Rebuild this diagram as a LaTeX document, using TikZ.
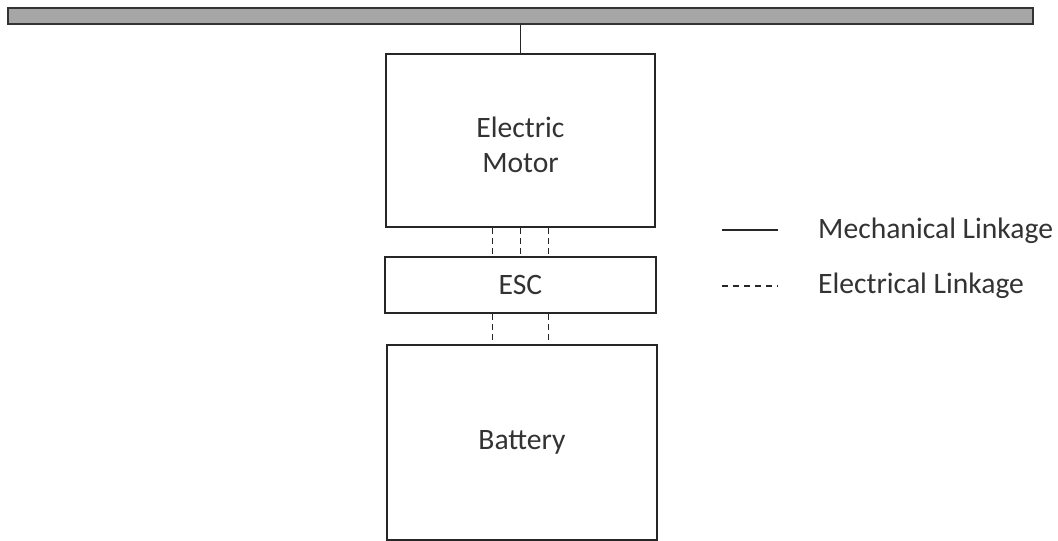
\documentclass[tikz,border=0pt]{standalone}
\usepackage{fontspec}
\setmainfont{Carlito}
\usepackage{tikz}
\usetikzlibrary{positioning}

\tikzset{
  unit/.style={draw=black!85, line width=1.4pt, fill=white, align=center,
    text=black!80, inner sep=0pt},
  mech/.style={draw=black!85, line width=1.4pt},
  elec/.style={draw=black!85, line width=1.2pt, dash pattern=on 6pt off 4pt},
  legtext/.style={anchor=west, text=black!80, inner sep=0pt}
}

\begin{document}
\begin{tikzpicture}[x=1pt, y=-1pt, every node/.style={font=\fontsize{29.6}{35}\selectfont}]

\path[use as bounding box] (0,0) rectangle (1058,541);

% Shaft bar
\node[draw=black!80, line width=2pt, fill=black!35, minimum width=1025pt,
      minimum height=16pt, inner sep=0pt] (bar) at (520.5,16) {};

% Units
\node[unit, minimum width=269pt, minimum height=173pt] (motor) at (520.5,140.5) {};
\node[align=center, text=black!80, inner sep=0pt] (motorlab)
  at ([yshift=-4pt]motor.center) {Electric\\Motor};
\node[unit, minimum width=271pt, minimum height=56pt] (esc) at (520.5,285) {ESC};
\node[unit, minimum width=270pt, minimum height=195pt] (battery) at (522,442.5)
  {Battery};

% Mechanical linkage: motor to shaft
\draw[mech] (motor.north) -- (motor.north |- bar.south);

% Electrical linkage
\foreach \dx in {-28,0,28} {
  \draw[elec] ([xshift=\dx pt]motor.south) -- ([xshift=\dx pt]esc.north);
}
\foreach \dx in {-28,28} {
  \draw[elec] ([xshift=\dx pt]esc.south) -- ([xshift=\dx pt]esc.south |- battery.north);
}

% Legend
\coordinate (mechA) at (722,230);
\coordinate (mechB) at (778,230);
\coordinate (elecA) at (722,286);
\coordinate (elecB) at (778,286);
\draw[mech] (mechA) -- (mechB);
\draw[elec, dash pattern=on 6pt off 5pt] (elecA) -- (elecB);
\node[legtext] (mechlab) at (818,231) {Mechanical Linkage};
\node[legtext] (eleclab) at (818,286) {Electrical Linkage};

\end{tikzpicture}
\end{document}
